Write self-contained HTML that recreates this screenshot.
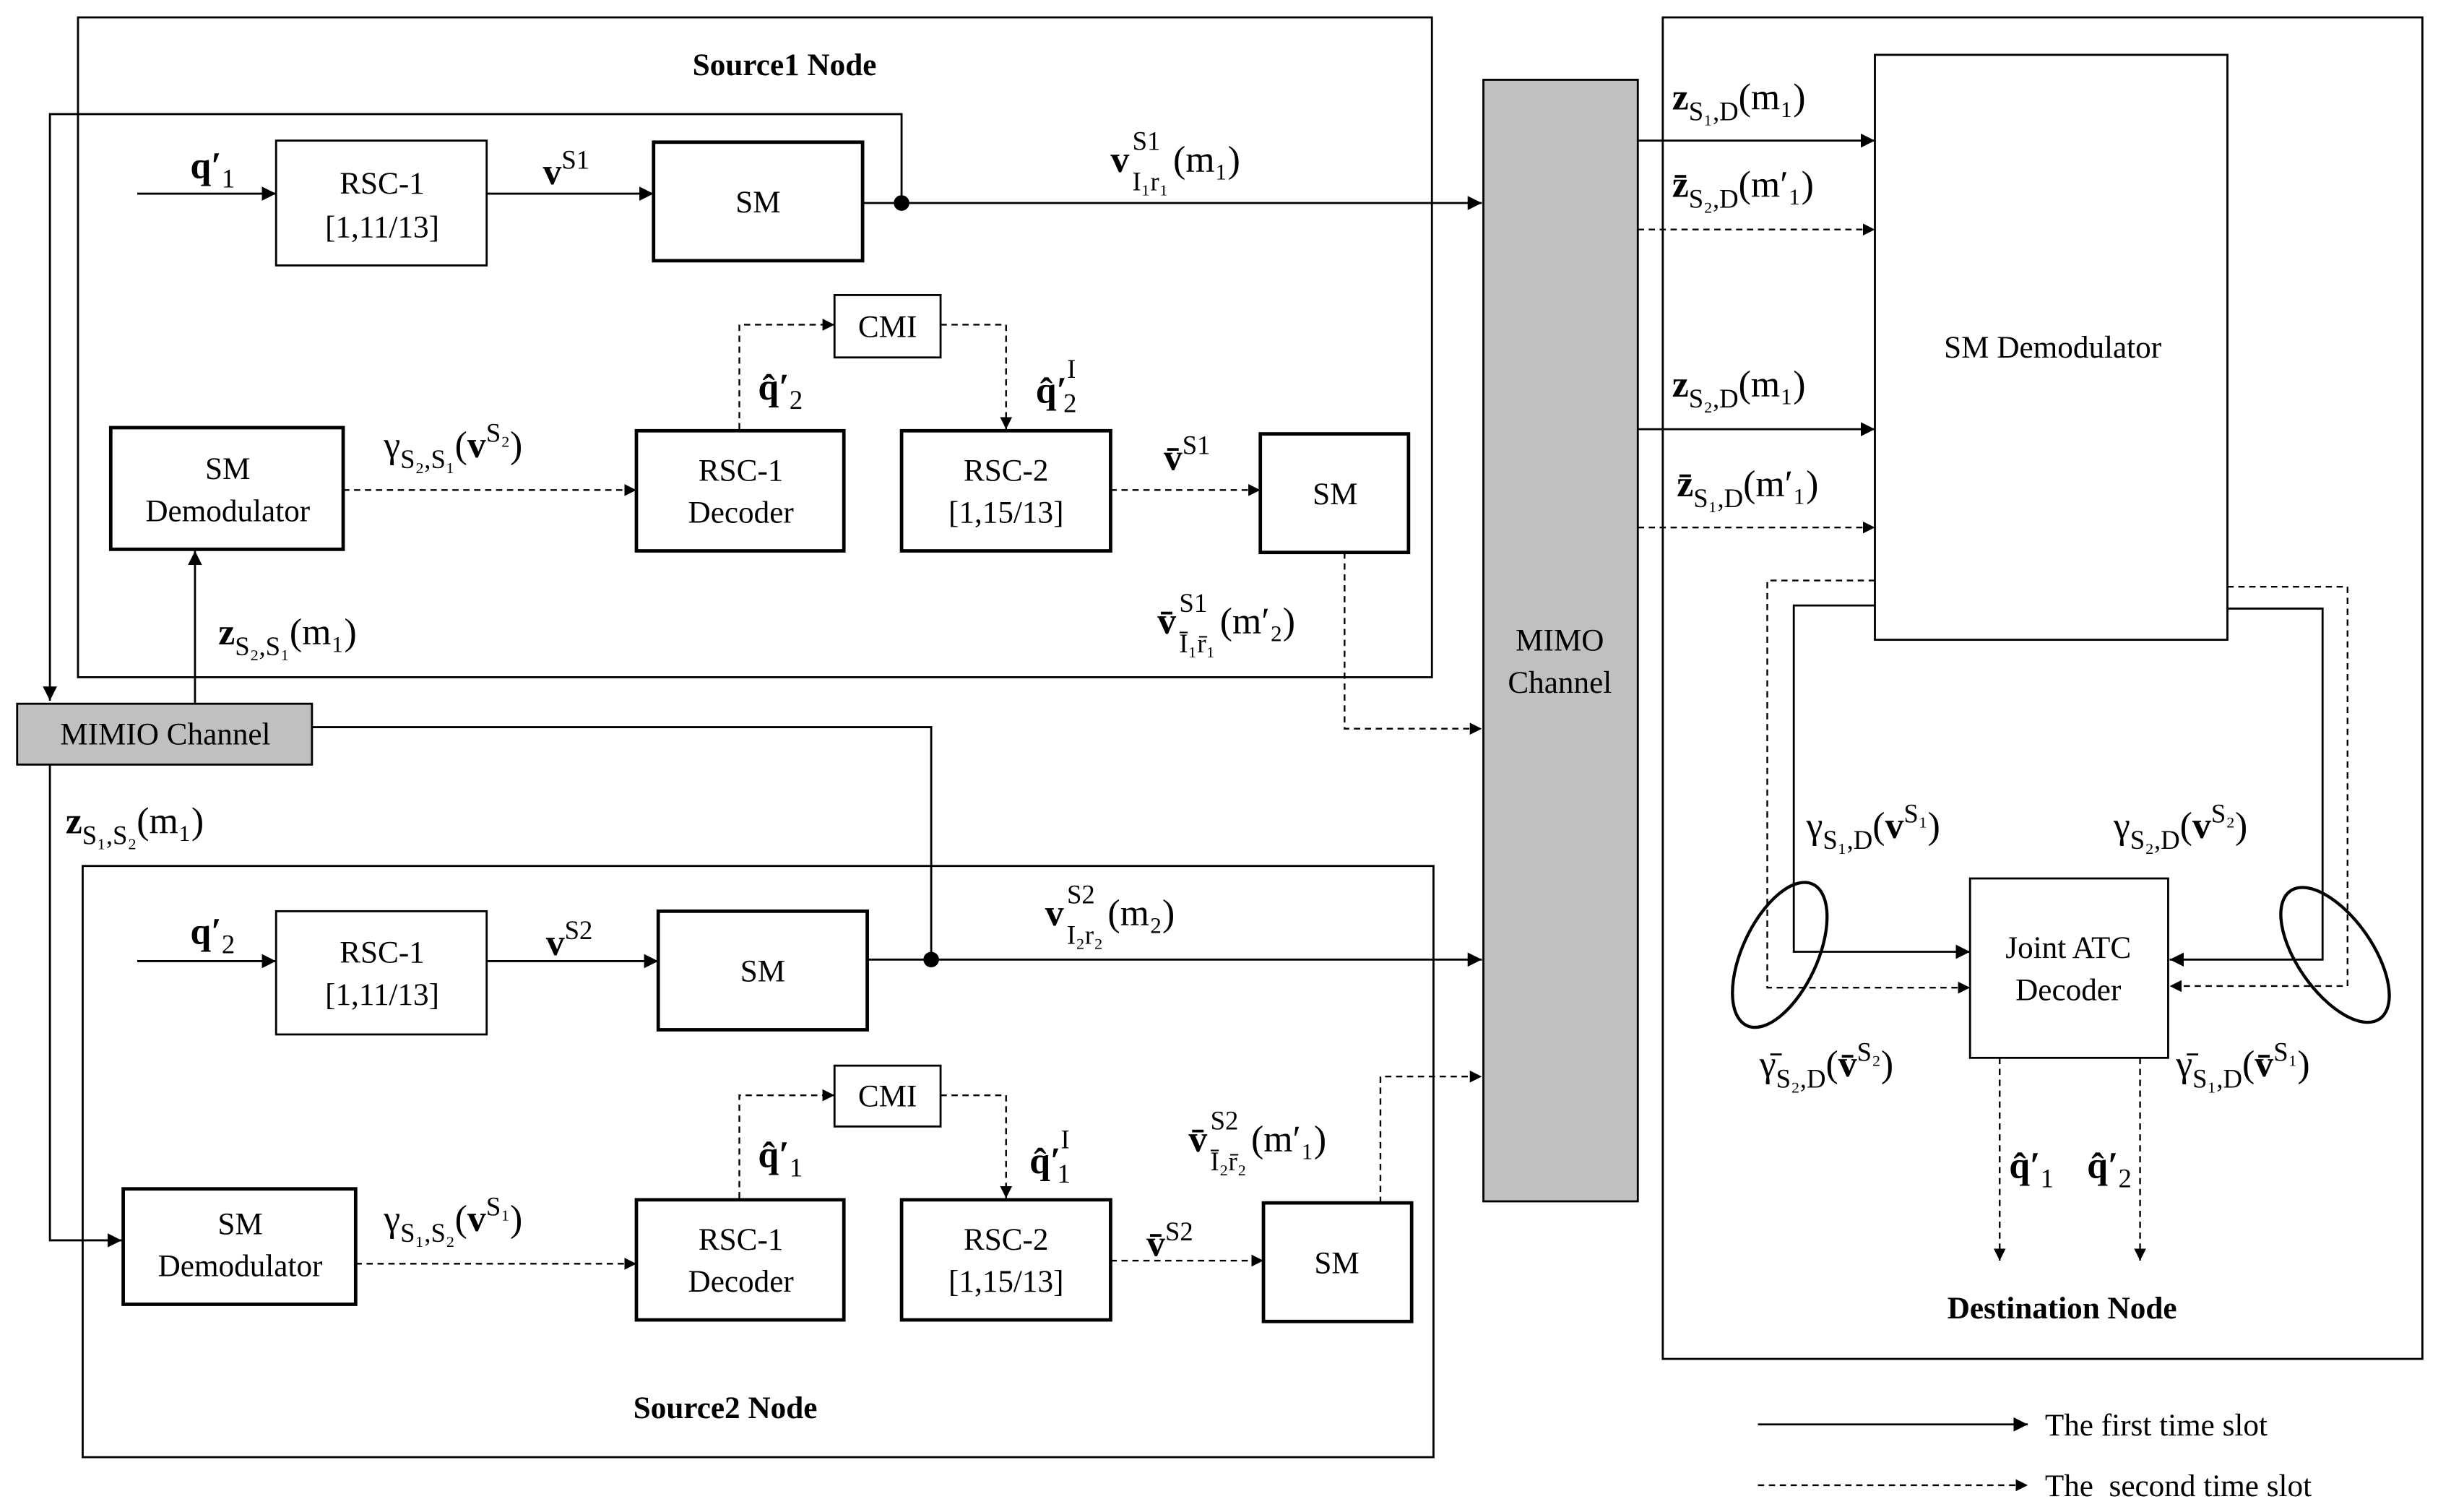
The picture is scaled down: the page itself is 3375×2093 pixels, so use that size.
<!DOCTYPE html>
<html><head><meta charset="utf-8"><style>
html,body{margin:0;padding:0;background:#fff}
svg{display:block}
text{font-family:"Liberation Serif",serif;fill:#000}
.b{font-size:20px}
.m{font-size:24px}
.s{font-size:17px}
</style></head><body>
<svg width="3375" height="2093" viewBox="0 0 1563 969" xmlns="http://www.w3.org/2000/svg">
<defs>
<marker id="a" viewBox="0 0 10 10" refX="10" refY="5" markerWidth="7" markerHeight="7" orient="auto"><path d="M0,0L10,5L0,10z" fill="#000"/></marker>
</defs>
<g fill="none" stroke="#000" stroke-width="1.3">
<rect x="50" y="11" width="868" height="423"/>
<rect x="53" y="555" width="866" height="379"/>
<rect x="1066" y="11" width="487" height="860"/>
<rect x="177" y="90" width="135" height="80"/>
<rect x="419" y="91" width="134" height="76" stroke-width="2.2"/>
<rect x="535" y="189" width="68" height="40"/>
<rect x="71" y="274" width="149" height="78" stroke-width="2.2"/>
<rect x="408" y="276" width="133" height="77" stroke-width="2.2"/>
<rect x="578" y="276" width="134" height="77" stroke-width="2.2"/>
<rect x="808" y="278" width="95" height="76" stroke-width="2.2"/>
<rect x="177" y="584" width="135" height="79"/>
<rect x="422" y="584" width="134" height="76" stroke-width="2.2"/>
<rect x="535" y="683" width="68" height="39"/>
<rect x="79" y="762" width="149" height="74" stroke-width="2.2"/>
<rect x="408" y="769" width="133" height="77" stroke-width="2.2"/>
<rect x="578" y="769" width="134" height="77" stroke-width="2.2"/>
<rect x="810" y="771" width="95" height="76" stroke-width="2.2"/>
<rect x="1202" y="35" width="226" height="375"/>
<rect x="1263" y="563" width="127" height="115"/>
<rect x="11" y="451" width="189" height="39" fill="#c0c0c0"/>
<rect x="951" y="51" width="99" height="719" fill="#c0c0c0"/>
<path d="M88,124H177" marker-end="url(#a)"/>
<path d="M312,124H419" marker-end="url(#a)"/>
<path d="M553,130H950" marker-end="url(#a)"/>
<path d="M578,130V73H32V449" marker-end="url(#a)"/>
<path d="M125,451V353" marker-end="url(#a)"/>
<path d="M200,466H597V615"/>
<path d="M32,490V795H78" marker-end="url(#a)"/>
<path d="M88,616H177" marker-end="url(#a)"/>
<path d="M312,616H422" marker-end="url(#a)"/>
<path d="M556,615H950" marker-end="url(#a)"/>
<path d="M1050,90H1202" marker-end="url(#a)"/>
<path d="M1050,275H1202" marker-end="url(#a)"/>
<path d="M1202,388H1150V610H1263" marker-end="url(#a)"/>
<path d="M1428,390H1489V615H1391" marker-end="url(#a)"/>
<path d="M1127,913H1300" marker-end="url(#a)"/>
</g>
<g fill="none" stroke="#000" stroke-width="1.1" stroke-dasharray="4,3">
<path d="M474,275V208H535" marker-end="url(#a)"/>
<path d="M603,208H645V275" marker-end="url(#a)"/>
<path d="M220,314H408" marker-end="url(#a)"/>
<path d="M712,314H808" marker-end="url(#a)"/>
<path d="M862,354V467H950" marker-end="url(#a)"/>
<path d="M474,768V702H535" marker-end="url(#a)"/>
<path d="M603,702H645V768" marker-end="url(#a)"/>
<path d="M228,810H408" marker-end="url(#a)"/>
<path d="M712,808H810" marker-end="url(#a)"/>
<path d="M885,771V690H950" marker-end="url(#a)"/>
<path d="M1050,147H1202" marker-end="url(#a)"/>
<path d="M1050,338H1202" marker-end="url(#a)"/>
<path d="M1202,372H1133V633H1263" marker-end="url(#a)"/>
<path d="M1428,376H1505V632H1391" marker-end="url(#a)"/>
<path d="M1282,678V808" marker-end="url(#a)"/>
<path d="M1372,678V808" marker-end="url(#a)"/>
<path d="M1127,952H1300" marker-end="url(#a)"/>
</g>
<circle cx="578" cy="130" r="5"/><circle cx="597" cy="615" r="5"/>
<ellipse cx="1141" cy="612" rx="24" ry="50" transform="rotate(25 1141 612)" fill="none" stroke="#000" stroke-width="2"/>
<ellipse cx="1497" cy="612" rx="24" ry="50" transform="rotate(-35 1497 612)" fill="none" stroke="#000" stroke-width="2"/>
<text x="503" y="48" class="b" font-weight="bold" text-anchor="middle">Source1 Node</text>
<text x="465" y="909" class="b" font-weight="bold" text-anchor="middle">Source2 Node</text>
<text x="1322" y="845" class="b" font-weight="bold" text-anchor="middle">Destination Node</text>
<g class="b" text-anchor="middle">
<text x="245" y="124">RSC-1</text><text x="245" y="152">[1,11/13]</text>
<text x="486" y="136">SM</text>
<text x="569" y="216">CMI</text>
<text x="146" y="307">SM</text><text x="146" y="334">Demodulator</text>
<text x="475" y="308">RSC-1</text><text x="475" y="335">Decoder</text>
<text x="645" y="308">RSC-2</text><text x="645" y="335">[1,15/13]</text>
<text x="856" y="323">SM</text>
<text x="245" y="617">RSC-1</text><text x="245" y="644">[1,11/13]</text>
<text x="489" y="629">SM</text>
<text x="569" y="709">CMI</text>
<text x="154" y="791">SM</text><text x="154" y="818">Demodulator</text>
<text x="475" y="801">RSC-1</text><text x="475" y="828">Decoder</text>
<text x="645" y="801">RSC-2</text><text x="645" y="828">[1,15/13]</text>
<text x="857" y="816">SM</text>
<text x="1316" y="229">SM Demodulator</text>
<text x="1326" y="614">Joint ATC</text><text x="1326" y="641">Decoder</text>
<text x="1000" y="417">MIMO</text><text x="1000" y="444">Channel</text>
<text x="106" y="477">MIMIO Channel</text>
</g>
<text x="1311" y="920" class="b">The first time slot</text>
<text x="1311" y="959" class="b">The&#160; second time slot</text>
<g class="m">
<text x="122" y="114" font-weight="bold">q′<tspan class="s" dy="6" font-weight="normal">1</tspan></text>
<text x="348" y="118" font-weight="bold">v<tspan class="s" dy="-10" font-weight="normal">S1</tspan></text>
<text x="712" y="110" font-weight="bold">v<tspan class="s" dy="-14" dx="2" font-weight="normal">S1</tspan><tspan class="s" dx="-18" dy="26" font-weight="normal">I₁r₁</tspan><tspan dy="-12" dx="3" font-weight="normal">(m₁)</tspan></text>
<text x="486" y="256" font-weight="bold">q̂′<tspan class="s" dy="6" font-weight="normal">2</tspan></text>
<text x="664" y="258" font-weight="bold">q̂′<tspan class="s" dy="-16" font-weight="normal">I</tspan><tspan class="s" dx="-8" dy="22" font-weight="normal">2</tspan></text>
<text x="246" y="293">γ<tspan class="s" dy="7">S₂,S₁</tspan><tspan dy="-7">(</tspan><tspan font-weight="bold">v</tspan><tspan class="s" dy="-10">S₂</tspan><tspan dy="10">)</tspan></text>
<text x="746" y="301" font-weight="bold">v̄<tspan class="s" dy="-10" font-weight="normal">S1</tspan></text>
<text x="742" y="406" font-weight="bold">v̄<tspan class="s" dy="-14" dx="2" font-weight="normal">S1</tspan><tspan class="s" dx="-18" dy="26" font-weight="normal">Ī₁r̄₁</tspan><tspan dy="-12" dx="3" font-weight="normal">(m′₂)</tspan></text>
<text x="140" y="413" font-weight="bold">z<tspan class="s" dy="7" font-weight="normal">S₂,S₁</tspan><tspan dy="-7" font-weight="normal">(m₁)</tspan></text>
<text x="42" y="534" font-weight="bold">z<tspan class="s" dy="7" font-weight="normal">S₁,S₂</tspan><tspan dy="-7" font-weight="normal">(m₁)</tspan></text>
<text x="122" y="605" font-weight="bold">q′<tspan class="s" dy="6" font-weight="normal">2</tspan></text>
<text x="350" y="612" font-weight="bold">v<tspan class="s" dy="-10" font-weight="normal">S2</tspan></text>
<text x="670" y="593" font-weight="bold">v<tspan class="s" dy="-14" dx="2" font-weight="normal">S2</tspan><tspan class="s" dx="-18" dy="26" font-weight="normal">I₂r₂</tspan><tspan dy="-12" dx="3" font-weight="normal">(m₂)</tspan></text>
<text x="486" y="748" font-weight="bold">q̂′<tspan class="s" dy="6" font-weight="normal">1</tspan></text>
<text x="660" y="752" font-weight="bold">q̂′<tspan class="s" dy="-16" font-weight="normal">I</tspan><tspan class="s" dx="-8" dy="22" font-weight="normal">1</tspan></text>
<text x="762" y="738" font-weight="bold">v̄<tspan class="s" dy="-14" dx="2" font-weight="normal">S2</tspan><tspan class="s" dx="-18" dy="26" font-weight="normal">Ī₂r̄₂</tspan><tspan dy="-12" dx="3" font-weight="normal">(m′₁)</tspan></text>
<text x="246" y="789">γ<tspan class="s" dy="7">S₁,S₂</tspan><tspan dy="-7">(</tspan><tspan font-weight="bold">v</tspan><tspan class="s" dy="-10">S₁</tspan><tspan dy="10">)</tspan></text>
<text x="735" y="805" font-weight="bold">v̄<tspan class="s" dy="-10" font-weight="normal">S2</tspan></text>
<text x="1072" y="70" font-weight="bold">z<tspan class="s" dy="7" font-weight="normal">S₁,D</tspan><tspan dy="-7" font-weight="normal">(m₁)</tspan></text>
<text x="1072" y="126" font-weight="bold">z̄<tspan class="s" dy="7" font-weight="normal">S₂,D</tspan><tspan dy="-7" font-weight="normal">(m′₁)</tspan></text>
<text x="1072" y="254" font-weight="bold">z<tspan class="s" dy="7" font-weight="normal">S₂,D</tspan><tspan dy="-7" font-weight="normal">(m₁)</tspan></text>
<text x="1075" y="318" font-weight="bold">z̄<tspan class="s" dy="7" font-weight="normal">S₁,D</tspan><tspan dy="-7" font-weight="normal">(m′₁)</tspan></text>
<text x="1158" y="537">γ<tspan class="s" dy="7">S₁,D</tspan><tspan dy="-7">(</tspan><tspan font-weight="bold">v</tspan><tspan class="s" dy="-10">S₁</tspan><tspan dy="10">)</tspan></text>
<text x="1355" y="537">γ<tspan class="s" dy="7">S₂,D</tspan><tspan dy="-7">(</tspan><tspan font-weight="bold">v</tspan><tspan class="s" dy="-10">S₂</tspan><tspan dy="10">)</tspan></text>
<text x="1128" y="690">γ̄<tspan class="s" dy="7">S₂,D</tspan><tspan dy="-7">(</tspan><tspan font-weight="bold">v̄</tspan><tspan class="s" dy="-10">S₂</tspan><tspan dy="10">)</tspan></text>
<text x="1395" y="690">γ̄<tspan class="s" dy="7">S₁,D</tspan><tspan dy="-7">(</tspan><tspan font-weight="bold">v̄</tspan><tspan class="s" dy="-10">S₁</tspan><tspan dy="10">)</tspan></text>
<text x="1288" y="755" font-weight="bold">q̂′<tspan class="s" dy="6" font-weight="normal">1</tspan></text>
<text x="1338" y="755" font-weight="bold">q̂′<tspan class="s" dy="6" font-weight="normal">2</tspan></text>
</g>
</svg>
</body></html>
